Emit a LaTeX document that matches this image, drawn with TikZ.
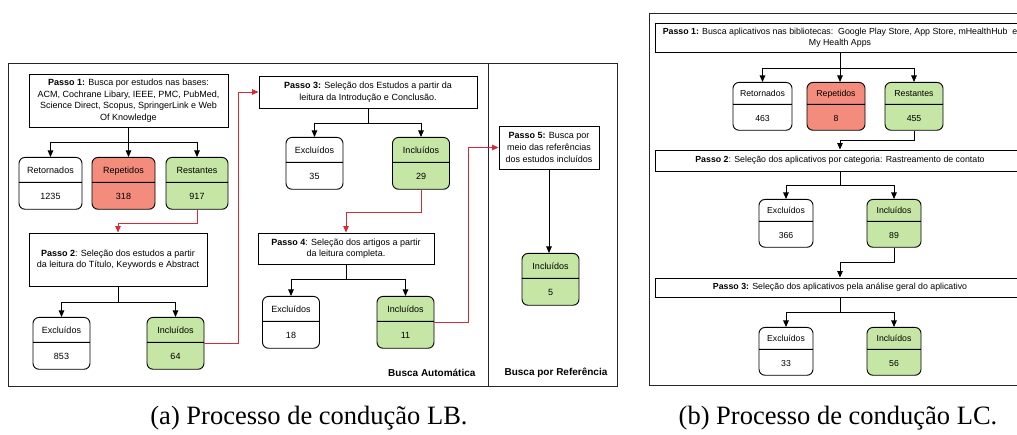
\documentclass[tikz,border=0pt]{standalone}
\usepackage{fontspec}
\setmainfont{Liberation Sans}
\newfontfamily\capfont{Liberation Serif}
\usetikzlibrary{arrows.meta,shapes.multipart}

\definecolor{redfill}{RGB}{244,140,126}
\definecolor{greenfill}{RGB}{198,230,166}
\definecolor{redline}{RGB}{214,42,56}

\tikzset{
  passo/.style={draw, line width=0.9pt, align=center, inner sep=0pt,
    font=\fontsize{9}{11.6}\selectfont},
  passosm/.style={passo, font=\fontsize{8.8}{10.8}\selectfont},
  count/.style={draw, line width=0.9pt, rectangle split, rectangle split parts=2,
    rounded corners=6pt, inner sep=0pt, minimum width=57pt, anchor=north,
    fill=white, font=\fontsize{9}{11}\selectfont},
  countsm/.style={count, font=\fontsize{8.7}{10}\selectfont},
  kept/.style={fill=greenfill},
  dup/.style={fill=redfill},
  link/.style={line width=0.9pt, -{Triangle[length=6.5pt,width=5.5pt]}},
  redlink/.style={link, draw=redline},
  frame/.style={line width=0.9pt, draw=black!85},
  tag/.style={font=\fontsize{10}{12}\selectfont\bfseries},
  caption/.style={font=\capfont\fontsize{26.5}{30}\selectfont}
}
% contador: rotulo em cima, numero embaixo
\newcommand{\cnt}[2]{\rule[-8.5pt]{0pt}{24pt}#1\nodepart{two}\rule[-9.5pt]{0pt}{26pt}#2}
\newcommand{\cntsm}[2]{\rule[-7.5pt]{0pt}{21pt}#1\nodepart{two}\rule[-8.5pt]{0pt}{25pt}#2}

\begin{document}
\begin{tikzpicture}[x=1pt,y=-1pt]
\clip (0,0) rectangle (1017,435);

% (a) LB
\draw[frame] (8,63) rectangle (617,386);
\draw[frame] (488,63) -- (488,386);

\node[passo, minimum width=199pt, minimum height=53pt] (p1) at (128.5,100.5)
  {\textbf{Passo 1:} Busca por estudos nas bases:\\ACM, Cochrane Libary, IEEE, PMC, PubMed,\\Science Direct, Scopus, SpringerLink e Web\\Of Knowledge};
\node[count, minimum width=63pt] (ret) at (50.5,157) {\cnt{Retornados}{1235}};
\node[count, dup, minimum width=63pt] (rep) at (123.5,157) {\cnt{Repetidos}{318}};
\node[count, kept, minimum width=62pt] (res) at (197,157) {\cnt{Restantes}{917}};

\node[passo, minimum width=178pt, minimum height=53pt] (p2) at (118,259.5)
  {\textbf{Passo 2}: Seleção dos estudos a partir\\da leitura do Título, Keywords e Abstract};
\node[count] (exc1) at (61.5,317) {\cnt{Excluídos}{853}};
\node[count, kept] (inc1) at (175.5,317) {\cnt{Incluídos}{64}};

\node[passo, minimum width=218pt, minimum height=32pt] (p3) at (368,92)
  {\textbf{Passo 3:} Seleção dos Estudos a partir da\\leitura da Introdução e Conclusão.};
\node[count] (exc2) at (314.5,137) {\cnt{Excluídos}{35}};
\node[count, kept] (inc2) at (421,137) {\cnt{Incluídos}{29}};

\node[passo, minimum width=176pt, minimum height=31pt] (p4) at (346,248.5)
  {\textbf{Passo 4}: Seleção dos artigos a partir\\da leitura completa.};
\node[count] (exc3) at (291,296) {\cnt{Excluídos}{18}};
\node[count, kept] (inc3) at (405.5,296) {\cnt{Incluídos}{11}};

\node[passo, minimum width=100pt, minimum height=43pt] (p5) at (549,147.5)
  {\textbf{Passo 5:} Busca por\\meio das referências\\dos estudos incluídos};
\node[count, kept] (inc4) at (550.5,253) {\cnt{Incluídos}{5}};

\node[tag, anchor=east] (auto) at (479,373) {Busca Automática};
\node[tag] (refs) at (556,373) {Busca por Referência};

\draw (p1.south) -- ++(0,15) coordinate (b1);
\draw[link] (b1) -| (ret.north);
\draw[link] (b1) -| (res.north);
\draw[link] (b1) -- (b1 |- rep.north);
\draw (p2.south) -- ++(0,16) coordinate (b2);
\draw[link] (b2) -| (exc1.north);
\draw[link] (b2) -| (inc1.north);
\draw (p3.south) -- ++(0,15) coordinate (b3);
\draw[link] (b3) -| (exc2.north);
\draw[link] (b3) -| (inc2.north);
\draw (p4.south) -- ++(0,15) coordinate (b4);
\draw[link] (b4) -| (exc3.north);
\draw[link] (b4) -| (inc3.north);
\draw[link] (p5.south) -- (p5.south |- inc4.north);

\draw[redlink] (res.south) -- ++(0,14) -| (p2.north);
\draw[redlink] (inc1.east) -- ++(34,0) |- (p3.west);
\draw[redlink] (inc2.south) -- ++(0,23) -| (p4.north);
\draw[redlink] (inc3.east) -- ++(34,0) |- (p5.west);

% (b) LC
\draw[frame] (649,13) rectangle (1031,385);

\node[passosm, minimum width=370pt, minimum height=29pt] (q1) at (840,37.5)
  {\textbf{Passo 1:} Busca aplicativos nas bibliotecas:\ \ Google Play Store, App Store, mHealthHub\ \ e\\My Health Apps};
\node[countsm, minimum width=59pt] (ret2) at (762.5,82) {\cntsm{Retornados}{463}};
\node[countsm, dup, minimum width=58pt] (rep2) at (836,82) {\cntsm{Repetidos}{8}};
\node[countsm, kept, minimum width=58pt] (res2) at (914,82) {\cntsm{Restantes}{455}};

\node[passosm, minimum width=370pt, minimum height=21pt] (q2) at (840,160.5)
  {\textbf{Passo 2}: Seleção dos aplicativos por categoria: Rastreamento de contato};
\node[countsm, minimum width=54pt] (exc4) at (786,199) {\cntsm{Excluídos}{366}};
\node[countsm, kept, minimum width=54pt] (inc5) at (894,199) {\cntsm{Incluídos}{89}};

\node[passosm, minimum width=370pt, minimum height=19pt] (q3) at (840,287.5)
  {\textbf{Passo 3:} Seleção dos aplicativos pela análise geral do aplicativo};
\node[countsm, minimum width=54pt] (exc5) at (786,327) {\cntsm{Excluídos}{33}};
\node[countsm, kept, minimum width=54pt] (inc6) at (894,327) {\cntsm{Incluídos}{56}};

\draw (q1.south) -- ++(0,16) coordinate (c1);
\draw[link] (c1) -| (ret2.north);
\draw[link] (c1) -| (res2.north);
\draw[link] (c1) -- (c1 |- rep2.north);
\draw[link] (res2.south) -- ++(0,10) -| (q2.north);
\draw (q2.south) -- ++(0,14) coordinate (c2);
\draw[link] (c2) -| (exc4.north);
\draw[link] (c2) -| (inc5.north);
\draw[link] (inc5.south) -- ++(0,15) -| (q3.north);
\draw (q3.south) -- ++(0,15) coordinate (c3);
\draw[link] (c3) -| (exc5.north);
\draw[link] (c3) -| (inc6.north);

% legendas
\node[caption] (capa) at (309,418) {(a) Processo de condução LB.};
\node[caption] (capb) at (838,418) {(b) Processo de condução LC.};
\end{tikzpicture}
\end{document}
